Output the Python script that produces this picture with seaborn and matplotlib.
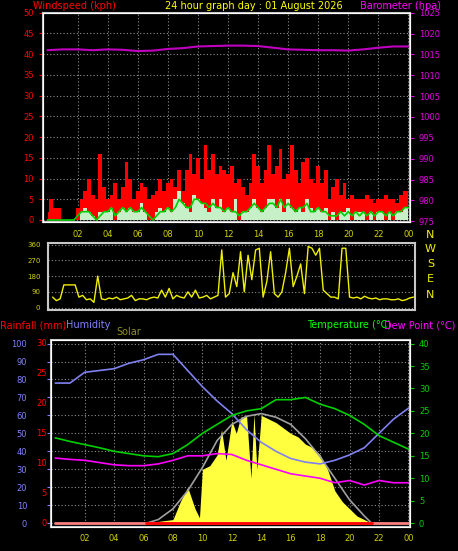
import numpy as np
import matplotlib
matplotlib.use('Agg')
import matplotlib.pyplot as plt
import seaborn as sns

sns.set_style('dark')
plt.rcParams['font.family'] = ['DejaVu Sans']

# ---- data ----
hours = list(range(25))
quarter_hours = [i * 0.25 for i in range(97)]

barometer = [1016.0, 1016.2, 1016.2, 1016.0, 1016.2, 1016.1, 1015.8, 1015.9, 1016.3, 1016.5,
             1016.9, 1017.0, 1017.1, 1017.1, 1017.0, 1016.6, 1016.2, 1016.1, 1016.0, 1016.0,
             1015.9, 1016.2, 1016.6, 1016.9, 1016.9]

gust = [2, 5, 3, 3, 0, 0, 0, 0, 3, 5, 7, 10, 6, 5, 16, 8, 5, 6, 9, 5, 8, 14, 10, 5,
        7, 9, 8, 5, 6, 7, 10, 7, 9, 10, 8, 12, 7, 12, 16, 11, 15, 10, 18, 12, 16, 11, 13, 12,
        11, 13, 9, 10, 8, 6, 9, 16, 13, 9, 12, 18, 11, 13, 17, 10, 11, 18, 12, 9, 14, 15, 10, 9,
        13, 9, 12, 5, 8, 10, 6, 9, 5, 6, 5, 5, 5, 6, 5, 4, 5, 5, 6, 5, 5, 4, 6, 7, 7]
wind_avg = [0, 0, 0, 0, 0, 0, 0, 0, 1, 2, 2, 2, 1, 0, 1, 2, 2, 3, 1, 2, 3, 2, 3, 2,
            2, 3, 2, 1, 0, 1, 2, 2, 3, 2, 3, 5, 4, 3, 3, 5, 5, 4, 4, 3, 4, 3, 3, 2,
            3, 2, 2, 1, 2, 2, 3, 4, 3, 2, 3, 4, 4, 3, 5, 3, 4, 3, 2, 3, 3, 4, 2, 2,
            3, 2, 2, 1, 1, 1, 2, 1, 2, 1, 2, 1, 2, 1, 2, 1, 2, 2, 1, 2, 1, 2, 2, 3, 3]
wind_speed = [0, 0, 0, 0, 0, 0, 0, 0, 0, 2, 3, 2, 1, 0, 2, 2, 2, 3, 0, 2, 3, 2, 3, 2,
              2, 4, 2, 0, 0, 2, 3, 2, 3, 2, 5, 7, 4, 3, 2, 6, 5, 4, 3, 2, 5, 3, 5, 2,
              3, 2, 5, 0, 2, 2, 3, 5, 3, 2, 3, 5, 5, 3, 5, 2, 5, 3, 2, 3, 2, 5, 3, 2,
              3, 2, 3, 0, 2, 0, 2, 2, 3, 0, 2, 2, 2, 0, 2, 0, 2, 2, 0, 2, 0, 2, 2, 3, 3]

direction = [60, 40, 50, 130, 130, 130, 130, 60, 70, 45, 50, 30, 180, 50, 45, 55, 50, 60, 45, 50,
             55, 70, 40, 50, 50, 45, 55, 60, 55, 100, 60, 110, 50, 70, 60, 55, 90, 60, 100, 55,
             60, 70, 50, 60, 70, 330, 60, 80, 200, 120, 320, 90, 300, 160, 330, 340, 60, 150, 320, 80,
             60, 90, 200, 340, 120, 180, 250, 80, 350, 340, 300, 340, 100, 80, 60, 60, 50, 340, 340, 60,
             55, 60, 50, 65, 55, 50, 55, 45, 50, 50, 45, 45, 50, 40, 45, 55, 60]

temperature = [19, 18.2, 17.5, 16.8, 16, 15.5, 15, 14.8, 15.5, 17.5, 20, 22, 24, 25, 25.5,
               27.5, 27.5, 28, 26.5, 25.5, 24, 22, 19.5, 18, 16.5]
dew_point = [14.5, 14.2, 14, 13.5, 13, 12.8, 12.8, 13.2, 14, 15, 15, 15.5, 15.3, 14, 13,
             12, 11, 10.5, 10, 9, 9.5, 8.5, 9.5, 9, 9]
humidity = [78, 78, 84, 85, 86, 89, 91, 94, 94, 85, 76, 68, 61, 52, 45, 40, 36, 34, 33,
            35, 38, 42, 50, 58, 64]

solar_hours = [6.2, 7, 8, 8.5, 9, 9.5, 9.8, 10, 10.5, 11, 11.3, 11.6, 12, 12.3, 12.6, 13, 13.3,
               13.5, 13.7, 14, 14.5, 15, 15.5, 16, 16.5, 17, 17.5, 18, 18.5, 19, 19.5, 20, 20.5, 21, 21.5]
solar = [0, 1, 2, 12, 20, 8, 3, 30, 32, 38, 52, 35, 57, 50, 59, 60, 25, 61, 30, 60,
         58, 56, 53, 50, 48, 44, 42, 38, 30, 18, 12, 8, 4, 2, 0]
solar_max_hours = [6.2, 7, 8, 9, 10, 11, 12, 13, 14, 15, 16, 17, 18, 19, 20, 21, 21.5]
solar_max = [0, 2, 8, 18, 31, 46, 55, 59.5, 61, 59, 55, 47, 37, 25, 13, 4, 0]

tick_hours = list(range(2, 25, 2))
tick_labels = ['02', '04', '06', '08', '10', '12', '14', '16', '18', '20', '22', '00']

BG = 'black'
GRID = '#909090'
FRAME = '#c8c8c8'
fs = 6


def style(ax):
    ax.set_facecolor(BG)
    for s in ax.spines.values():
        s.set_color(FRAME)
        s.set_linewidth(1.5)
    ax.set_xlim(-0.3, 24.1)


def add_grid(ax, xgrid=True):
    ax.set_axisbelow(True)
    ax.yaxis.grid(True, color=GRID, linestyle=(0, (1, 2)), linewidth=0.8)
    ax.xaxis.grid(xgrid, color=GRID, linestyle=(0, (1, 2)), linewidth=0.8)


fig = plt.figure(figsize=(4.58, 5.51), dpi=100, facecolor=BG)

# ---- wind / barometer ----
ax1 = fig.add_axes([0.094, 0.597, 0.801, 0.380])
style(ax1)
ax1.fill_between(quarter_hours, gust, step='mid', color='#ff0000', lw=0)
ax1.fill_between(quarter_hours, wind_speed, step='mid', color='#c8f0c8', lw=0)
sns.lineplot(x=quarter_hours, y=wind_avg, ax=ax1, color='#00d000', lw=1.2)
ax1.set_ylim(-0.5, 50)
ax1.set_yticks(range(0, 51, 5))
ax1.tick_params(axis='y', colors='red', labelsize=fs, length=3)
ax1.set_xticks(tick_hours)
ax1.set_xticklabels(tick_labels)
ax1.tick_params(axis='x', colors='#d0d000', labelsize=fs, length=2)
add_grid(ax1)
ax1b = ax1.twinx()
sns.lineplot(x=hours, y=barometer, ax=ax1b, color='#c000c0', lw=1.5)
ax1b.set_ylim(974.8, 1025)
ax1b.set_yticks(range(975, 1026, 5))
ax1b.tick_params(axis='y', colors='#e000e0', labelsize=fs, length=3)
ax1b.grid(False)
fig.text(0.072, 0.999, 'Windspeed (kph)', color='red', fontsize=7, va='top')
fig.text(0.555, 0.999, '24 hour graph day : 01 August 2026', color='yellow', fontsize=7, va='top', ha='center')
fig.text(0.962, 0.999, 'Barometer (hpa)', color='#ff00ff', fontsize=7, va='top', ha='right')

# ---- wind direction ----
ax2 = fig.add_axes([0.105, 0.437, 0.801, 0.122])
style(ax2)
sns.lineplot(x=quarter_hours, y=direction, ax=ax2, color='#f0f000', lw=1)
ax2.set_ylim(-15, 370)
ax2.set_yticks([0, 90, 180, 270, 360])
ax2.tick_params(axis='y', colors='#d0d000', labelsize=5, length=2)
ax2.set_xticks([])
add_grid(ax2, xgrid=False)
for lab, v in zip(['N', 'W', 'S', 'E', 'N'], [0.98, 0.79, 0.60, 0.41, 0.20]):
    fig.text(0.94, 0.437 + (v - 0.04) * 0.14, lab, color='#f0f000', fontsize=8, ha='center')

# ---- humidity / temp / solar ----
ax3 = fig.add_axes([0.111, 0.044, 0.784, 0.339])
style(ax3)
ax3.fill_between(solar_hours, solar, color='#ffff40', lw=0)
sns.lineplot(x=solar_max_hours, y=solar_max, ax=ax3, color='#a0a0a0', lw=1.2)
ax3.plot([0, 24], [0, 0], color='#ff8080', lw=2)
ax3.plot([6.2, 21.5], [0, 0], color='red', lw=2)
sns.lineplot(x=hours, y=humidity, ax=ax3, color='#8080f0', lw=1.2)
ax3.set_ylim(-2, 102)
ax3.set_yticks(range(0, 101, 10))
ax3.tick_params(axis='y', colors='#8080ff', labelsize=fs, length=3, pad=14)
ax3.set_xticks(tick_hours)
ax3.set_xticklabels(tick_labels)
ax3.tick_params(axis='x', colors='#d0d000', labelsize=fs, length=2)
add_grid(ax3)
for v in range(0, 31, 5):
    ax3.text(-0.6, v * 100 / 30, str(v), color='red', fontsize=fs, ha='right', va='center')
ax3c = ax3.twinx()
sns.lineplot(x=hours, y=temperature, ax=ax3c, color='#00d000', lw=1.2)
sns.lineplot(x=hours, y=dew_point, ax=ax3c, color='#ff00ff', lw=1.2)
ax3c.set_ylim(-0.8, 40.8)
ax3c.set_yticks(range(0, 41, 5))
ax3c.tick_params(axis='y', colors='#00d000', labelsize=fs, length=3)
ax3c.grid(False)
ax3c.set_xlim(-0.3, 24.1)
fig.text(0.0, 0.41, 'Rainfall (mm)', color='red', fontsize=7, va='center')
fig.text(0.145, 0.41, 'Humidity', color='#8080ff', fontsize=7, va='center')
fig.text(0.255, 0.398, 'Solar', color='#909020', fontsize=7, va='center')
fig.text(0.67, 0.41, 'Temperature (°C)', color='#00ff00', fontsize=7, va='center')
fig.text(0.995, 0.41, 'Dew Point (°C)', color='#ff00ff', fontsize=7, va='center', ha='right')

fig.savefig('out.png', dpi=100, facecolor=BG)
